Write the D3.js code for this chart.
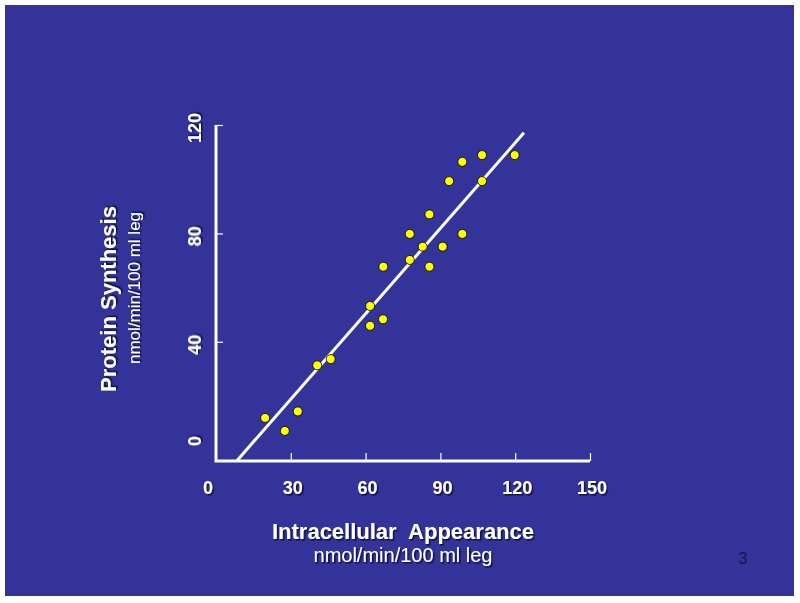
<!DOCTYPE html>
<html>
<head>
<meta charset="utf-8">
<script src="https://cdn.jsdelivr.net/npm/d3@7"></script>
<style>
  body { margin: 0; background: #ffffff; }
  svg { display: block; font-family: "Liberation Sans", Arial, sans-serif; }
</style>
</head>
<body>
<svg id="chart" width="800" height="603"></svg>
<script>
// values
const intracellular = [98.8, 106.7, 119.8, 93.5, 106.7, 85.6, 77.7, 98.8, 82.9, 90.9,
  67.1, 77.7, 85.6, 61.8, 61.8, 67.0, 19.7, 27.6, 32.8, 40.6, 46.0];
const synthesis = [106.4, 108.9, 108.9, 99.3, 99.3, 87.0, 79.8, 79.8, 75.1, 75.1,
  67.7, 70.2, 67.7, 53.2, 45.9, 48.3, 11.9, 7.1, 14.3, 31.3, 33.6];
const xTicks = [0, 30, 60, 90, 120, 150];
const yTicks = [0, 40, 80, 120];
const fitRange = [8.3, 123.5];
const fitSlope = 1.051;
const fitIntercept = -12.7;

const svg = d3.select("#chart");

// slide background
svg.append("rect")
  .attr("x", 5).attr("y", 5)
  .attr("width", 789).attr("height", 591)
  .attr("fill", "#333399");

const defs = svg.append("defs");
defs.append("filter").attr("id", "shadow")
  .attr("x", "-20%").attr("y", "-20%").attr("width", "140%").attr("height", "140%")
  .append("feDropShadow")
  .attr("dx", 1.5).attr("dy", 1.5).attr("stdDeviation", 0.3)
  .attr("flood-color", "#0a0a30").attr("flood-opacity", 0.9);

const x = d3.scaleLinear().domain([0, 150]).range([216, 590]);
const y = d3.scaleLinear().domain([-4, 120]).range([461, 125]);

// axes
const xAxis = svg.append("g").attr("transform", `translate(0,${y(-4)})`)
  .call(d3.axisTop(x).tickValues(xTicks.slice(1)).tickSize(8).tickFormat(""));
xAxis.select(".domain").remove();
xAxis.selectAll("line").attr("stroke", "#ffffff").attr("stroke-width", 1.2);

const yAxis = svg.append("g").attr("transform", `translate(${x(0)},0)`)
  .call(d3.axisRight(y).tickValues(yTicks.slice(1)).tickSize(7).tickFormat(""));
yAxis.select(".domain").remove();
yAxis.selectAll("line").attr("stroke", "#ffffff").attr("stroke-width", 1.2);

svg.append("path")
  .attr("d", `M${x(0)},${y(120)}V${y(-4)}H${x(150)}`)
  .attr("fill", "none")
  .attr("stroke", "#ffffff")
  .attr("stroke-width", 3);

// tick labels
svg.append("g").selectAll("text")
  .data(xTicks)
  .enter()
  .append("text")
  .attr("x", d => d === 0 ? x(d) - 8 : x(d) + 2)
  .attr("y", 494)
  .attr("text-anchor", "middle")
  .attr("fill", "#ffffff")
  .attr("filter", "url(#shadow)")
  .style("font-size", "18px")
  .style("font-weight", "bold")
  .text(d => d);

svg.append("g").selectAll("text")
  .data(yTicks)
  .enter()
  .append("text")
  .attr("transform", d => `translate(201,${y(d) + (d === 0 ? -9 : 3)}) rotate(-90)`)
  .attr("text-anchor", "middle")
  .attr("fill", "#ffffff")
  .attr("filter", "url(#shadow)")
  .style("font-size", "18px")
  .style("font-weight", "bold")
  .text(d => d);

// regression line
svg.append("line")
  .attr("x1", x(fitRange[0])).attr("y1", y(fitSlope * fitRange[0] + fitIntercept))
  .attr("x2", x(fitRange[1])).attr("y2", y(fitSlope * fitRange[1] + fitIntercept))
  .attr("stroke", "#ffffff")
  .attr("stroke-width", 3);

// points
svg.append("g").selectAll("circle")
  .data(intracellular)
  .enter()
  .append("circle")
  .attr("cx", d => x(d))
  .attr("cy", (d, i) => y(synthesis[i]))
  .attr("r", 4.5)
  .attr("fill", "#ffff00")
  .attr("stroke", "#000000")
  .attr("stroke-width", 0.8);

// axis titles
svg.append("text")
  .attr("x", 403).attr("y", 539)
  .attr("text-anchor", "middle")
  .attr("fill", "#ffffff")
  .attr("filter", "url(#shadow)")
  .style("font-size", "22px")
  .style("font-weight", "bold")
  .style("white-space", "pre")
  .text("Intracellular  Appearance");

svg.append("text")
  .attr("x", 403).attr("y", 562)
  .attr("text-anchor", "middle")
  .attr("fill", "#ffffff")
  .attr("filter", "url(#shadow)")
  .style("font-size", "20px")
  .text("nmol/min/100 ml leg");

svg.append("text")
  .attr("transform", "translate(116,299) rotate(-90)")
  .attr("text-anchor", "middle")
  .attr("fill", "#ffffff")
  .attr("filter", "url(#shadow)")
  .style("font-size", "22px")
  .style("font-weight", "bold")
  .text("Protein Synthesis");

svg.append("text")
  .attr("transform", "translate(140,288) rotate(-90)")
  .attr("text-anchor", "middle")
  .attr("fill", "#ffffff")
  .attr("filter", "url(#shadow)")
  .style("font-size", "17px")
  .text("nmol/min/100 ml leg");

// slide number
svg.append("text")
  .attr("x", 743).attr("y", 564)
  .attr("text-anchor", "middle")
  .attr("fill", "#16164a")
  .style("font-size", "16px")
  .text("3");
</script>
</body>
</html>
